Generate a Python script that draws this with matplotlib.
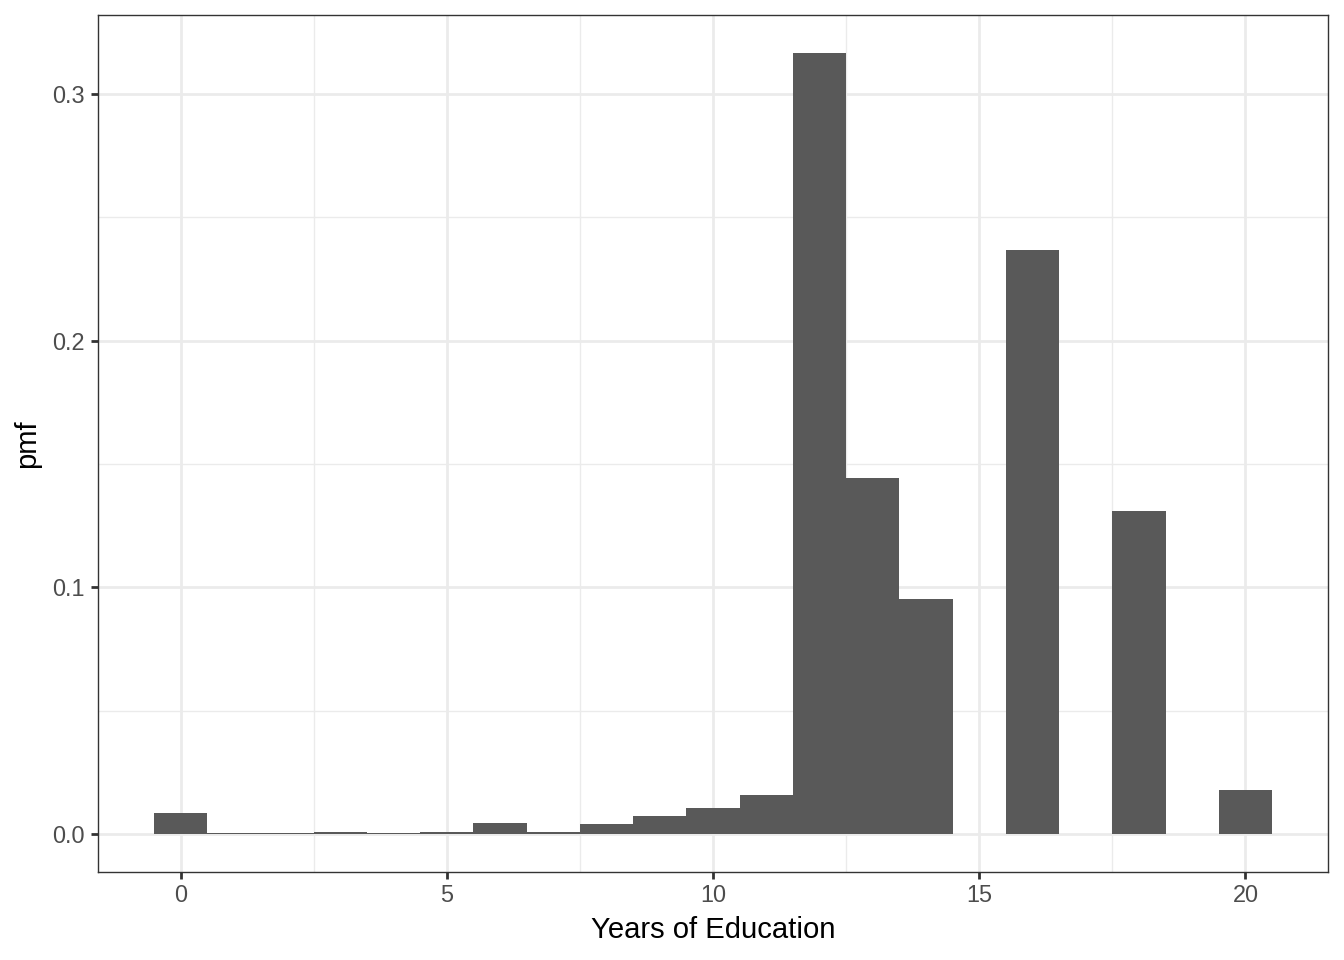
import matplotlib
matplotlib.use("Agg")
import matplotlib.pyplot as plt
import numpy as np

years = [0, 1, 2, 3, 4, 5, 6, 7, 8, 9, 10, 11, 12, 13, 14, 16, 18, 20]
pmf = [0.0087, 0.0004, 0.0004, 0.00105, 0.00065, 0.00105, 0.0046, 0.00105,
       0.0043, 0.0072, 0.0107, 0.0161, 0.3167, 0.1445, 0.0954, 0.2367, 0.1311, 0.0179]
xticks = [0, 5, 10, 15, 20]
yticks = [0.0, 0.1, 0.2, 0.3]
ytick_labels = ["0.0", "0.1", "0.2", "0.3"]

plt.rcParams['font.family'] = ['Liberation Sans', 'DejaVu Sans']

fig = plt.figure(figsize=(13.44, 9.6), dpi=100)
ax = fig.add_axes([98/1344, 1 - 872/960, (1328-98)/1344, (872-15)/960])

ax.bar(years, pmf, width=1.0, color='#595959', edgecolor='none', zorder=3)

xmin, xmax = -0.5, 20.5
xr = xmax - xmin
ax.set_xlim(xmin - 0.05*xr, xmax + 0.05*xr)
ax.set_ylim(-0.0153, 0.332)

ax.set_xticks(xticks)
ax.set_xticks([2.5, 7.5, 12.5, 17.5], minor=True)
ax.set_yticks(yticks)
ax.set_yticklabels(ytick_labels)
ax.set_yticks([0.05, 0.15, 0.25], minor=True)

ax.grid(which='major', color='#EBEBEB', linewidth=2.0, zorder=0)
ax.grid(which='minor', color='#EBEBEB', linewidth=1.0, zorder=0)
ax.set_axisbelow(True)

for s in ax.spines.values():
    s.set_color('#333333')
    s.set_linewidth(1.0)

ax.tick_params(which='major', length=5.3, width=2.0, color='#333333',
               labelsize=16.9, labelcolor='#4D4D4D', pad=3)
ax.tick_params(axis='y', which='major', pad=4.5)
ax.tick_params(which='minor', length=0)

ax.set_xlabel("Years of Education", fontsize=21.1, color='black', labelpad=7)
ax.set_ylabel("pmf", fontsize=21.1, color='black', labelpad=8)

fig.savefig("out.png", dpi=100)
